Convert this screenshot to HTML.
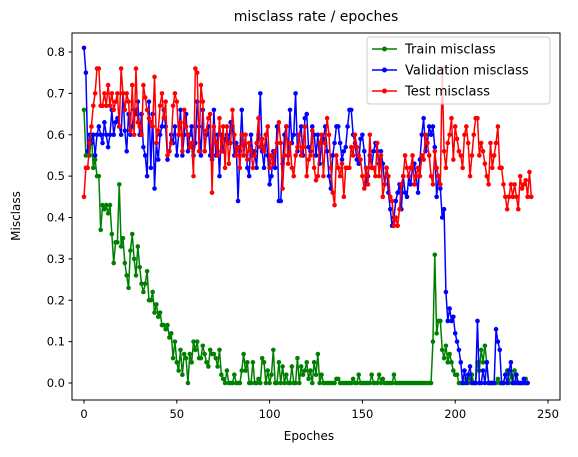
<!DOCTYPE html>
<html><head><meta charset="utf-8"><style>
body{margin:0;background:#fff;font-family:"DejaVu Sans","Liberation Sans",sans-serif;}
svg text{font-family:"DejaVu Sans","Liberation Sans",sans-serif;}
</style></head><body>
<svg id="chart" width="578" height="453" xmlns="http://www.w3.org/2000/svg">
<rect width="578" height="453" fill="#fff"/>
<text x="316" y="21" font-size="14" text-anchor="middle">misclass rate / epoches</text>
<g id="plot"></g>
<rect x="72" y="33" width="488" height="367" fill="none" stroke="#000" stroke-width="1"/>
<text x="309" y="440" font-size="12" text-anchor="middle">Epoches</text>
<text x="20" y="216" font-size="12" text-anchor="middle" transform="rotate(-90 20 216)">Misclass</text>
<g>
<rect x="367" y="37" width="183" height="67" rx="3" fill="#fff" fill-opacity="0.8" stroke="#ccc"/>
<g><line x1="372" y1="49" x2="397" y2="49" stroke="green" stroke-width="1.5"/><circle cx="384.5" cy="49" r="2.5" fill="green"/><text x="405" y="53.5" font-size="13">Train misclass</text></g>
<g><line x1="372" y1="70" x2="397" y2="70" stroke="blue" stroke-width="1.5"/><circle cx="384.5" cy="70" r="2.5" fill="blue"/><text x="405" y="74.5" font-size="13">Validation misclass</text></g>
<g><line x1="372" y1="91" x2="397" y2="91" stroke="red" stroke-width="1.5"/><circle cx="384.5" cy="91" r="2.5" fill="red"/><text x="405" y="95.5" font-size="13">Test misclass</text></g>
</g>
</svg>
<script>
const xTicks=[0,50,100,150,200,250];
const yTicks=[0.0,0.1,0.2,0.3,0.4,0.5,0.6,0.7,0.8];
const trainValues=[.66,.55,.56,.55,.6,.52,.54,.5,.5,.37,.43,.42,.43,.41,.43,.36,.29,.34,.34,.48,.33,.35,.29,.26,.23,.32,.36,.3,.26,.33,.28,.24,.22,.24,.27,.2,.2,.22,.17,.19,.16,.17,.14,.14,.13,.14,.11,.12,.06,.1,.05,.03,.08,.02,.07,.06,0,.07,.05,.1,.08,.1,.06,.06,.09,.07,.05,.04,.08,.07,.07,.06,.04,.08,.02,.01,0,.03,0,0,0,.02,0,0,0,.03,.07,.03,.05,0,0,.05,0,0,.01,0,.06,.05,0,.03,0,.02,.08,0,0,.05,0,.04,0,.02,0,0,.04,0,0,.06,0,.04,.02,.03,.05,.01,.03,0,.05,.02,.07,0,.02,0,0,0,0,0,0,0,.01,.01,0,0,0,0,0,0,0,.01,0,0,.02,0,0,0,0,0,0,.02,0,0,0,.02,0,.01,0,0,0,0,0,.02,0,0,0,0,0,0,0,0,0,0,0,0,0,0,0,0,0,0,0,0,.1,.31,.12,.15,.15,.08,.06,.09,.05,.07,.05,.03,.02,.02,0,0,0,0,.01,0,.01,.02,0,0,.05,.03,.08,.05,.09,.05,0,0,0,0,0,.01,0,0,0,.02,.03,0,.02,0,.03,0,0,0,0,0,.01,0];
const validationValues=[.81,.75,.56,.6,.58,.6,.55,.6,.62,.6,.58,.63,.6,.57,.6,.66,.6,.63,.64,.62,.6,.7,.61,.56,.65,.6,.62,.66,.65,.68,.6,.65,.57,.55,.5,.68,.52,.65,.47,.58,.54,.6,.62,.66,.62,.54,.56,.6,.58,.62,.55,.6,.66,.55,.6,.65,.56,.6,.62,.55,.58,.68,.62,.55,.66,.56,.6,.62,.55,.54,.66,.55,.6,.5,.6,.56,.59,.6,.58,.63,.62,.55,.58,.44,.56,.66,.55,.6,.52,.5,.6,.55,.56,.52,.6,.7,.56,.52,.6,.55,.48,.5,.56,.52,.62,.44,.44,.53,.6,.62,.55,.66,.58,.6,.7,.56,.6,.62,.55,.64,.65,.57,.56,.62,.6,.55,.6,.53,.58,.59,.62,.56,.5,.47,.55,.58,.62,.62,.58,.54,.56,.57,.62,.66,.66,.6,.58,.54,.53,.59,.6,.56,.48,.5,.55,.52,.56,.58,.56,.53,.56,.53,.48,.52,.46,.42,.38,.4,.44,.46,.48,.42,.5,.46,.45,.5,.48,.52,.53,.5,.46,.54,.6,.64,.56,.58,.62,.6,.62,.57,.45,.5,.47,.4,.42,.22,.15,.18,.15,.16,.12,.1,.08,.05,0,.03,0,.02,.04,0,0,0,.15,0,0,.03,0,.05,0,0,0,0,.13,.1,.08,0,0,.02,0,.03,.05,0,0,.02,0,0,0,.01,0,0];
const testValues=[.45,.52,.52,.58,.62,.67,.7,.76,.76,.67,.67,.7,.67,.72,.67,.7,.66,.68,.7,.62,.76,.7,.66,.7,.68,.61,.72,.6,.76,.63,.62,.6,.72,.69,.66,.64,.63,.62,.74,.58,.61,.67,.7,.64,.68,.55,.56,.58,.67,.7,.68,.6,.63,.56,.66,.62,.6,.57,.58,.5,.76,.75,.56,.72,.68,.56,.61,.64,.65,.46,.62,.58,.55,.64,.56,.62,.52,.62,.53,.58,.66,.6,.55,.57,.52,.6,.55,.6,.54,.58,.56,.52,.55,.58,.64,.57,.59,.56,.6,.62,.52,.55,.53,.56,.58,.63,.58,.47,.55,.62,.53,.58,.52,.5,.55,.57,.6,.55,.57,.62,.5,.54,.55,.61,.52,.49,.5,.58,.6,.5,.58,.64,.6,.52,.46,.43,.55,.52,.5,.53,.45,.52,.52,.52,.57,.55,.6,.57,.55,.54,.5,.47,.52,.48,.6,.52,.52,.5,.58,.5,.55,.45,.48,.52,.5,.45,.44,.38,.4,.38,.42,.48,.5,.55,.52,.5,.52,.55,.48,.5,.52,.5,.55,.54,.6,.58,.55,.5,.48,.56,.52,.5,.48,.76,.56,.52,.58,.6,.64,.54,.62,.59,.56,.55,.52,.6,.62,.58,.5,.55,.6,.64,.64,.55,.58,.56,.53,.5,.48,.58,.52,.55,.58,.62,.52,.52,.48,.45,.42,.45,.48,.45,.48,.45,.42,.5,.47,.48,.49,.45,.51,.45];
const NS='http://www.w3.org/2000/svg';
const X0=84, XS=(548-84)/250, Y0=383, YS=(383-52)/0.8;
function xPos(v){return X0+v*XS;}
function yPos(v){return Y0-v*YS;}
const plot=document.getElementById('plot');
function mk(tag,attrs){const e=document.createElementNS(NS,tag);for(const k in attrs)e.setAttribute(k,attrs[k]);return e;}
xTicks.forEach(t=>{
  const g=mk('g',{});
  
  
  g.appendChild(mk('line',{x1:xPos(t),x2:xPos(t),y1:400,y2:403.5,stroke:'#000'}));
  const tx=mk('text',{x:xPos(t),y:418,'font-size':11.5,'text-anchor':'middle'});tx.textContent=t;g.appendChild(tx);
  plot.appendChild(g);
});
yTicks.forEach(t=>{
  const g=mk('g',{});
  
  
  g.appendChild(mk('line',{x1:68.5,x2:72,y1:yPos(t),y2:yPos(t),stroke:'#000'}));
  const tx=mk('text',{x:65,y:yPos(t)+4,'font-size':11.5,'text-anchor':'end'});tx.textContent=t.toFixed(1);g.appendChild(tx);
  plot.appendChild(g);
});
function series(vals,color,name){
  const g=mk('g',{});
  
  
  const pts=vals.map((v,i)=>xPos(i).toFixed(2)+','+yPos(v).toFixed(2)).join(' ');
  g.appendChild(mk('polyline',{points:pts,fill:'none',stroke:color,'stroke-width':1.5,'stroke-linejoin':'round'}));
  vals.forEach((v,i)=>g.appendChild(mk('circle',{cx:xPos(i),cy:yPos(v),r:2.3,fill:color})));
  plot.appendChild(g);
}
series(trainValues,'green','train-series');
series(validationValues,'blue','validation-series');
series(testValues,'red','test-series');
</script>
</body></html>
